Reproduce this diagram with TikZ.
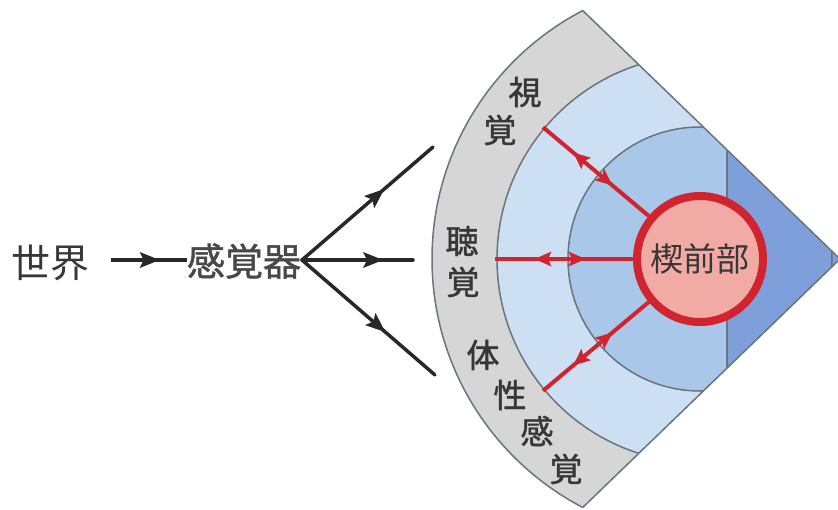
\documentclass[tikz,border=0pt]{standalone}
\usepackage{fontspec}
\newfontfamily\jp{Noto Sans CJK JP}
\newfontfamily\jpb{Noto Sans CJK JP}[FakeBold=1.3]
\usetikzlibrary{arrows.meta,decorations.markings,calc}
\definecolor{inkc}{RGB}{40,40,40}
\definecolor{txtc}{RGB}{55,55,55}
\definecolor{grayband}{RGB}{214,214,214}
\definecolor{lightb}{RGB}{205,224,243}
\definecolor{midb}{RGB}{169,199,232}
\definecolor{darkb}{RGB}{126,159,217}
\definecolor{edgec}{RGB}{105,116,124}
\definecolor{redc}{RGB}{208,36,46}
\definecolor{pinkc}{RGB}{242,170,165}
\tikzset{
  blk/.style={line width=3.5pt, draw=inkc},
  midarrow/.style={postaction={decorate}, decoration={markings,
     mark=at position #1 with {\fill[inkc] (10pt,0pt) -- (-10pt,8pt) -- (-6pt,0pt) -- (-10pt,-8pt) -- cycle;}}},
  redline/.style={line width=4pt, draw=redc, postaction={decorate},
     decoration={markings,
       mark=at position 48pt with {\fill[redc] (-8.5pt,0pt) -- (8.5pt,7.5pt) -- (5pt,0pt) -- (8.5pt,-7.5pt) -- cycle;},
       mark=at position 82pt with {\fill[redc] (8.5pt,0pt) -- (-8.5pt,7.5pt) -- (-5pt,0pt) -- (-8.5pt,-7.5pt) -- cycle;}}},
  outl/.style={draw=edgec, line width=1.5pt},
  lab/.style={inner sep=0pt, text=txtc, font=\jpb\fontsize{33}{33}\selectfont},
}
\begin{document}
\begin{tikzpicture}[x=1pt,y=-1pt]
\useasboundingbox (0,0) rectangle (838,509);
% wedge
\coordinate (apex) at (840,259);
\coordinate (tc) at (582.8,10.6);
\coordinate (bc) at (582.8,507.4);
\begin{scope}
  \clip (apex) -- (400,-166) -- (400,684) -- cycle;
  \fill[grayband] (712,259) circle [radius=280];
  \fill[lightb] (701,259) circle [radius=204];
  \fill[midb] (700,259) circle [radius=132];
  \fill[darkb] (727,0) rectangle (900,509);
  \draw[outl] (712,259) circle [radius=280];
  \draw[outl] (701,259) circle [radius=204];
  \draw[outl] (700,259) circle [radius=132];
  \draw[outl] (727,100) -- (727,420);
\end{scope}
\draw[outl] (tc) -- (apex) -- (bc);
% labels in band
\node[lab] (l1) at (525,92) {視};
\node[lab] (l2) at (500,130) {覚};
\node[lab] (l3) at (462,241) {聴};
\node[lab] (l4) at (463,282) {覚};
\node[lab] (l5) at (483,355) {体};
\node[lab] (l6) at (510,395) {性};
\node[lab] (l7) at (537,431) {感};
\node[lab] (l8) at (566,469) {覚};
% precuneus and red connectors
\node[circle, draw=redc, line width=8pt, fill=pinkc, minimum size=126pt, inner sep=0pt,
      font=\jp\fontsize{33}{33}\selectfont, text=txtc] (pc) at (700,259) {楔前部};
\coordinate (vis) at (543,127.2);
\coordinate (aud) at (495,259);
\coordinate (som) at (543,390.8);
\draw[redline] (vis) -- (pc);
\draw[redline] (aud) -- (pc);
\draw[redline] (som) -- (pc);
% left part
\node[inner sep=0pt, text=txtc, font=\jp\fontsize{39}{39}\selectfont] (world) at (50,263) {世界};
\node[inner sep=0pt, text=inkc!85, font=\jpb\fontsize{38}{38}\selectfont] (sense) at (244,261) {感覚器};
\coordinate (j) at (302,260);
\coordinate (e1) at (433,147);
\coordinate (e2) at (413,260);
\coordinate (e3) at (435,375);
\draw[blk, midarrow=0.62, shorten <=22pt] (world.east |- j) -- (sense.west |- j);
\draw[blk, midarrow=0.57, line cap=round] (j) -- (e1);
\draw[blk, midarrow=0.64, line cap=round] (j) -- (e2);
\draw[blk, midarrow=0.57, line cap=round] (j) -- (e3);
\end{tikzpicture}
\end{document}
